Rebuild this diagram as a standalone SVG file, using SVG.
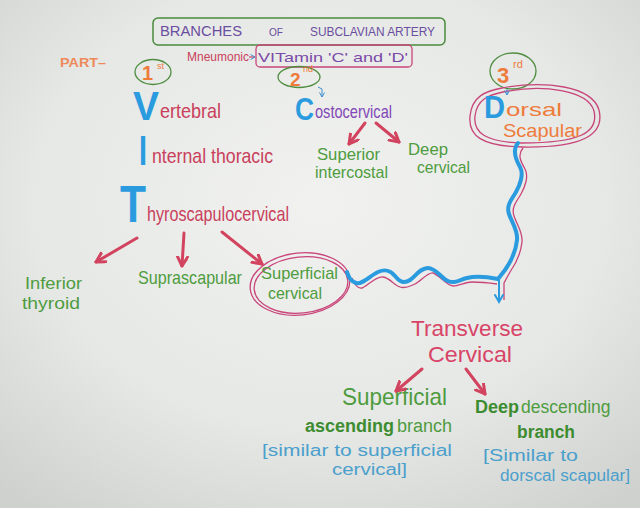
<svg xmlns="http://www.w3.org/2000/svg" width="640" height="508" viewBox="0 0 640 508">
<defs>
<radialGradient id="bg" cx="0.5" cy="0.4" r="0.75">
<stop offset="0" stop-color="#f1f2ef"/>
<stop offset="0.6" stop-color="#e6e8e5"/>
<stop offset="1" stop-color="#cfd1ce"/>
</radialGradient>
<marker id="ah" markerUnits="userSpaceOnUse" markerWidth="14" markerHeight="14" refX="10" refY="6" orient="auto">
<path d="M1,1 L10,6 L1,11" fill="none" stroke="#d2435f" stroke-width="3" stroke-linecap="round" stroke-linejoin="round"/>
</marker>
<marker id="ahb" markerUnits="userSpaceOnUse" markerWidth="12" markerHeight="12" refX="8" refY="5" orient="auto">
<path d="M1,1 L8,5 L1,9" fill="none" stroke="#2b9be0" stroke-width="2" stroke-linecap="round"/>
</marker>
<marker id="ahs" markerUnits="userSpaceOnUse" markerWidth="8" markerHeight="8" refX="5" refY="3" orient="auto">
<path d="M0.5,0.5 L5,3 L0.5,5.5" fill="none" stroke="#3d8fd0" stroke-width="1"/>
</marker>
</defs>
<style>
text{font-family:"Liberation Sans",Arial,sans-serif;}
.cr{fill:#c9405c;font-size:21px;}
.big{fill:#2b9be0;font-weight:bold;}
.gr{fill:#4e9c3f;font-size:17px;}
.dg{fill:#3d8c30;font-weight:bold;}
.pu{fill:#8248b8;font-size:19px;}
.or{fill:#ee7b3c;}
.lb{fill:#4b9fcc;font-size:16px;}
.tv{fill:#d84467;font-size:22px;}
.arr{stroke:#d2435f;stroke-width:3;fill:none;stroke-linecap:round;marker-end:url(#ah);}
.ell{fill:none;stroke:#4f8d40;stroke-width:1.3;}
.pk{fill:none;stroke:#c8457a;stroke-width:1.3;}
</style>
<rect width="640" height="508" fill="url(#bg)"/>

<g id="title">
<rect x="153" y="18" width="292" height="27" rx="5" fill="none" stroke="#4a8a3c" stroke-width="1.5"/>
<text x="160" y="36" font-size="14" fill="#6a4ea0" textLength="82" lengthAdjust="spacingAndGlyphs">BRANCHES</text>
<text x="269" y="36" font-size="11" fill="#6a4ea0" textLength="14" lengthAdjust="spacingAndGlyphs">OF</text>
<text x="310" y="36" font-size="12" fill="#6a4ea0" textLength="125" lengthAdjust="spacingAndGlyphs">SUBCLAVIAN ARTERY</text>
</g>

<g id="mnemonic">
<text x="187" y="61" font-size="13" fill="#c9405c" textLength="62" lengthAdjust="spacingAndGlyphs">Mneumonic</text>
<path d="M249,57 L255,57" stroke="#c9405c" stroke-width="1.2" marker-end="url(#ahs)"/>
<rect x="256" y="45" width="156" height="22" rx="4" class="pk"/>
<text x="258" y="62" font-size="13" fill="#7a4aa8" textLength="150" lengthAdjust="spacingAndGlyphs">VITamin 'C' and 'D'</text>
</g>

<g id="part">
<text x="60" y="67" font-size="13" font-weight="bold" fill="#ee8a5a" textLength="46" lengthAdjust="spacingAndGlyphs">PART–</text>
</g>

<g id="first">
<ellipse cx="153" cy="72" rx="18" ry="12.5" class="ell"/>
<text x="142" y="80" font-size="20" class="or" font-weight="bold">1</text>
<text x="157" y="69" font-size="9" class="or">st</text>
</g>

<g id="second">
<ellipse cx="299" cy="77" rx="21" ry="10.5" class="ell"/>
<text x="290" y="86" font-size="19" class="or" font-weight="bold">2</text>
<text x="303" y="72" font-size="9" class="or">nd</text>
</g>

<g id="third">
<ellipse cx="513" cy="71" rx="23" ry="18" class="ell"/>
<text x="497" y="83" font-size="22" class="or" font-weight="bold">3</text>
<text x="513" y="68" font-size="11" class="or">rd</text>
</g>

<g id="vertebral">
<text x="133" y="120" font-size="40" class="big" textLength="26" lengthAdjust="spacingAndGlyphs">V</text>
<text x="160" y="118" class="cr" textLength="61" lengthAdjust="spacingAndGlyphs">ertebral</text>
</g>

<g id="internal-thoracic">
<text x="139" y="165" font-size="42" class="big" textLength="8" lengthAdjust="spacingAndGlyphs">I</text>
<text x="152" y="163" class="cr" textLength="121" lengthAdjust="spacingAndGlyphs">nternal thoracic</text>
</g>

<g id="thyroscapulocervical">
<text x="120" y="222" font-size="52" class="big" textLength="26" lengthAdjust="spacingAndGlyphs">T</text>
<text x="147" y="221" class="cr" textLength="142" lengthAdjust="spacingAndGlyphs">hyroscapulocervical</text>
</g>

<g id="costocervical">
<text x="295" y="120" font-size="32" class="big" textLength="19" lengthAdjust="spacingAndGlyphs">C</text>
<text x="315" y="118" class="pu" textLength="77" lengthAdjust="spacingAndGlyphs">ostocervical</text>
</g>

<g id="superior-intercostal">
<text x="317" y="160" class="gr" textLength="63" lengthAdjust="spacingAndGlyphs">Superior</text>
<text x="315" y="178" class="gr" textLength="73" lengthAdjust="spacingAndGlyphs">intercostal</text>
</g>

<g id="deep-cervical">
<text x="408" y="155" class="gr" textLength="40" lengthAdjust="spacingAndGlyphs">Deep</text>
<text x="417" y="173" class="gr" textLength="53" lengthAdjust="spacingAndGlyphs">cervical</text>
</g>

<g id="dorsal-scapular">
<path d="M502,88 C545,80 592,86 599,110 C605,135 582,148 522,147 C482,146 468,136 470,116 C472,96 486,91 502,88 Z" class="pk"/>
<path d="M503,92 C543,84 588,90 594,111 C599,133 579,143 522,143 C486,142 473,133 475,116 C477,99 489,95 503,92 Z" class="pk"/>
<text x="484" y="118" font-size="32" class="big" textLength="21" lengthAdjust="spacingAndGlyphs">D</text>
<text x="506" y="116" font-size="19" class="or" textLength="56" lengthAdjust="spacingAndGlyphs">orsal</text>
<text x="503" y="137" font-size="19" class="or" textLength="79" lengthAdjust="spacingAndGlyphs">Scapular</text>
</g>

<g id="inferior-thyroid">
<text x="25" y="289" class="gr" textLength="57" lengthAdjust="spacingAndGlyphs">Inferior</text>
<text x="22" y="309" class="gr" textLength="58" lengthAdjust="spacingAndGlyphs">thyroid</text>
</g>

<g id="suprascapular">
<text x="138" y="284" class="gr" textLength="104" lengthAdjust="spacingAndGlyphs" style="font-size:19px">Suprascapular</text>
</g>

<g id="superficial-cervical">
<ellipse cx="300" cy="284" rx="50" ry="31" class="pk" transform="rotate(-6 300 284)"/>
<ellipse cx="301" cy="285" rx="47" ry="28" class="pk" transform="rotate(-6 301 285)"/>
<text x="261" y="279" class="gr" textLength="77" lengthAdjust="spacingAndGlyphs">Superficial</text>
<text x="268" y="299" class="gr" textLength="54" lengthAdjust="spacingAndGlyphs">cervical</text>
</g>

<g id="transverse-cervical">
<text x="411" y="336" class="tv" textLength="112" lengthAdjust="spacingAndGlyphs">Transverse</text>
<text x="428" y="362" class="tv" textLength="84" lengthAdjust="spacingAndGlyphs">Cervical</text>
</g>

<g id="superficial-ascending">
<text x="342" y="405" font-size="24" fill="#4e9c3f" textLength="105" lengthAdjust="spacingAndGlyphs">Superficial</text>
<text x="305" y="432" font-size="18" class="dg">ascending</text>
<text x="397" y="432" font-size="18" fill="#4e9c3f">branch</text>
<text x="262" y="456" class="lb" textLength="190" lengthAdjust="spacingAndGlyphs">[similar to superficial</text>
<text x="332" y="475" class="lb" textLength="75" lengthAdjust="spacingAndGlyphs">cervical]</text>
</g>

<g id="deep-descending">
<text x="475" y="413" font-size="18" class="dg">Deep</text>
<text x="521" y="413" font-size="17.5" fill="#4e9c3f">descending</text>
<text x="517" y="438" font-size="18" class="dg" textLength="58" lengthAdjust="spacingAndGlyphs">branch</text>
<text x="483" y="461" class="lb" textLength="95" lengthAdjust="spacingAndGlyphs">[Similar to</text>
<text x="500" y="481" class="lb" textLength="130" lengthAdjust="spacingAndGlyphs">dorscal scapular]</text>
</g>

<g id="connectors">
<path class="arr" d="M365,123 L349,144"/>
<path class="arr" d="M376,123 L399,142"/>
<path class="arr" d="M137,238 L96,262"/>
<path class="arr" d="M184,233 L182,266"/>
<path class="arr" d="M222,232 L262,264"/>
<path class="arr" d="M422,369 L396,391"/>
<path class="arr" d="M466,369 L485,394"/>
<path d="M318,87 L322,89 L322,97" fill="none" stroke="#3d8fd0" stroke-width="1" marker-end="url(#ahs)"/>
<path d="M507,89 L507,95" fill="none" stroke="#3d8fd0" stroke-width="1" marker-end="url(#ahs)"/>
<path d="M523,148 C517,155 521,162 525,169 S 525,187 521,194 S 511,207 514,216 S 523,232 522,242 S 517,262 510,272 L 504,283 L 504,300 M352,278 C354,284 358,289 362,288 S 376,276 383,277 S 394,285 400,287 S 410,286 415,284 S 428,272 433,273 S 447,286 453,286 S 465,282 472,282 S 490,283 497,284" class="pk" stroke-width="1.1"/>
<path d="M518,143 C512,150 516,160 520,167 S 520,185 516,192 S 506,205 509,214 S 518,230 517,240 S 512,260 505,270 L 498,279 C488,277 475,276 467,278 S 455,284 448,281 S 436,268 428,268 S 416,276 410,280 S 400,282 395,276 S 385,269 378,272 S 362,285 356,283 S 349,277 347,272" fill="none" stroke="#2b9be0" stroke-width="4" stroke-linecap="round" stroke-linejoin="round"/>
<path d="M499,280 L499,302" fill="none" stroke="#2b9be0" stroke-width="2" marker-end="url(#ahb)"/>
</g>
</svg>
